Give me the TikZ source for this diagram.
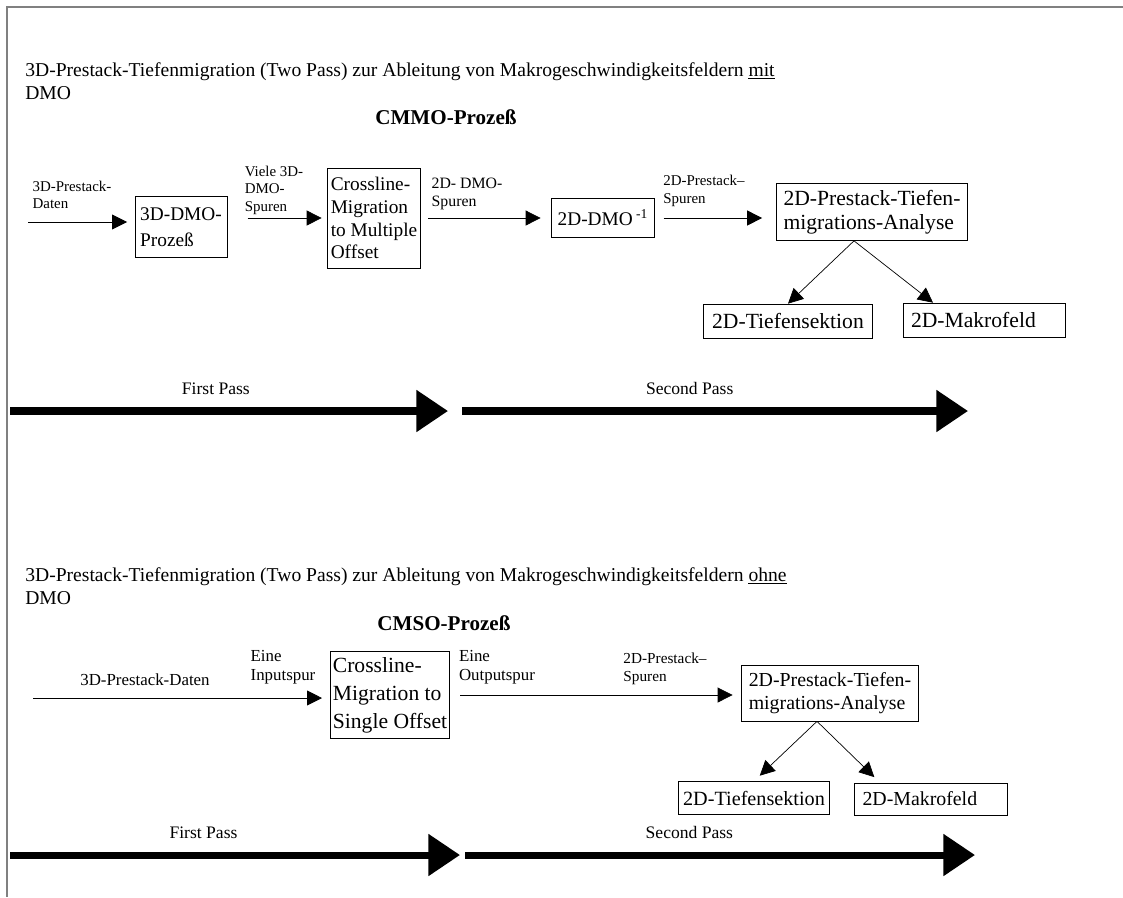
\documentclass[tikz,border=0pt]{standalone}
\usepackage{fontspec}
\setmainfont{Liberation Serif}
\usetikzlibrary{arrows.meta,positioning,calc}
\tikzstyle{block}=[draw, align=left, inner sep=3pt, font=\fontsize{11}{13}\selectfont]
\tikzstyle{lbl}=[align=left, inner sep=0pt, font=\fontsize{8.5}{10}\selectfont]
\tikzstyle{biglbl}=[align=left, inner sep=0pt, font=\fontsize{9.6}{11}\selectfont]
\tikzstyle{head}=[align=left, inner sep=0pt, anchor=base west, font=\fontsize{11.15}{13}\selectfont]
\tikzstyle{proc}=[inner sep=0pt, font=\bfseries\fontsize{12}{14}\selectfont]
\tikzstyle{arrow}=[-{Triangle[length=8.5pt,width=8.5pt]}]
\tikzstyle{pass}=[line width=4pt, -{Triangle[length=18pt,width=23pt]}]
\tikzstyle{passlbl}=[inner sep=0pt, font=\fontsize{10}{12}\selectfont]

\begin{document}
\begin{tikzpicture}[x=0.02cm,y=-0.02cm]
\useasboundingbox (0,0) rectangle (1123,897);
\draw[black!50, line width=1.1pt] (1123,7) -- (7,7) -- (7,897);

% mit DMO
\node (title1) [head] at (25,99) {3D-Prestack-Tiefenmigration (Two Pass) zur Ableitung von Makrogeschwindigkeitsfeldern \underline{mit}\\DMO};
\node (cmmo) [proc] at (446,117) {CMMO-Prozeß};

\coordinate (in1) at (28,222);
\node (dmo) [block, minimum height=1.22cm, font=\fontsize{11}{15}\selectfont] at (181,227) {3D-DMO-\\Prozeß};
\node (cml) [block, inner xsep=2pt, minimum height=2cm] at (374,218) {Crossline-\\Migration\\to Multiple\\Offset};
\node (inv) [block, inner xsep=3.5pt, minimum height=0.78cm] at (603,218) {2D-DMO\textsuperscript{ -1}};
\node (ana1) [block, inner xsep=4pt, minimum height=1.14cm, font=\fontsize{12.3}{13.5}\selectfont] at (872,212) {2D-Prestack-Tiefen-\\migrations-Analyse};
\node (tief1) [block, inner xsep=5pt, minimum height=0.68cm, font=\fontsize{12.3}{14}\selectfont] at (788,321) {2D-Tiefensektion};
\node (makro1) [block, inner xsep=4.5pt, minimum height=0.68cm, text width=2.92cm, font=\fontsize{12.3}{14}\selectfont] at (984,320) {2D-Makrofeld};

\node (l1) [lbl] at (72,195) {3D-Prestack-\\Daten};
\node (l2) [lbl] at (274,190) {Viele 3D-\\DMO-\\Spuren};
\node (l3) [lbl, font=\fontsize{9}{10}\selectfont] at (467,194) {2D- DMO-\\Spuren};
\node (l4) [lbl] at (704,191) {2D-Prestack–\\Spuren};

\coordinate (split1) at ($(ana1.south)+(-18,0)$);
\draw[arrow, shorten >=4.3pt] (in1) -- (dmo.west |- in1);
\draw[arrow, shorten <=11.5pt, shorten >=3pt] (dmo.east |- cml) -- (cml);
\draw[arrow, shorten <=4pt, shorten >=6pt] (cml) -- (inv);
\draw[arrow, shorten <=5pt, shorten >=8pt] (inv) -- (ana1.west |- inv);
\draw[arrow] (split1) -- (tief1.north);
\draw[arrow] (split1) -- ($(makro1.north)+(-51,0)$);

\coordinate (fp1a) at (10,411);
\coordinate (fp1b) at (448,411);
\coordinate (sp1a) at (462,411);
\coordinate (sp1b) at (968,411);
\draw[pass] (fp1a) -- node[passlbl, pos=0.47, above=7.5pt] (fp1) {First Pass} (fp1b);
\draw[pass] (sp1a) -- node[passlbl, pos=0.45, above=7.5pt] (sp1) {Second Pass} (sp1b);

% ohne DMO
\node (title2) [head] at (25,604) {3D-Prestack-Tiefenmigration (Two Pass) zur Ableitung von Makrogeschwindigkeitsfeldern \underline{ohne}\\DMO};
\node (cmso) [proc] at (444,623) {CMSO-Prozeß};

\coordinate (in2) at (33,698);
\node (csl) [block, inner xsep=1.5pt, minimum height=1.7cm, font=\fontsize{12.3}{16}\selectfont] at (390,695) {Crossline-\\Migration to\\Single Offset};
\node (ana2) [block, inner xsep=4pt, minimum height=1.12cm, font=\fontsize{11.3}{13}\selectfont] at (830,693) {2D-Prestack-Tiefen-\\migrations-Analyse};
\node (tief2) [block, inner xsep=2.5pt, minimum height=0.66cm, font=\fontsize{11.5}{13}\selectfont] at (754,798) {2D-Tiefensektion};
\node (makro2) [block, inner xsep=4.5pt, minimum height=0.64cm, text width=2.74cm, font=\fontsize{11.3}{13}\selectfont] at (931,799) {2D-Makrofeld};

\node (l5) [biglbl] at (145,680) {3D-Prestack-Daten};
\node (l6) [biglbl] at (283,667) {Eine\\Inputspur};
\node (l7) [biglbl] at (497,667) {Eine\\Outputspur};
\node (l8) [lbl, font=\fontsize{8.7}{10.5}\selectfont] at (665,669) {2D-Prestack–\\Spuren};

\coordinate (split2) at ($(ana2.south)+(-13,0)$);
\draw[arrow, shorten >=4.5pt] (in2) -- (csl.west |- in2);
\draw[arrow, shorten <=5.7pt, shorten >=5pt] (csl) -- (ana2.west |- csl);
\draw[arrow, shorten >=4.5pt] (split2) -- (tief2.north);
\draw[arrow, shorten >=4.5pt] (split2) -- ($(makro2.north)+(-51,0)$);

\coordinate (fp2a) at (10,855);
\coordinate (fp2b) at (460,855);
\coordinate (sp2a) at (465,855);
\coordinate (sp2b) at (975,855);
\draw[pass] (fp2a) -- node[passlbl, pos=0.43, above=7.5pt] (fp2) {First Pass} (fp2b);
\draw[pass] (sp2a) -- node[passlbl, pos=0.44, above=7.5pt] (sp2) {Second Pass} (sp2b);
\end{tikzpicture}
\end{document}
